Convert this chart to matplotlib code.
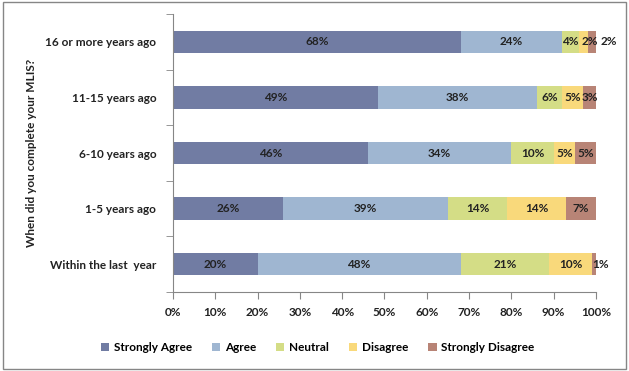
import matplotlib.pyplot as plt
import numpy as np
from matplotlib.patches import Rectangle

categories = ["Within the last  year", "1-5 years ago", "6-10 years ago",
              "11-15 years ago", "16 or more years ago"]
series = ["Strongly Agree", "Agree", "Neutral", "Disagree", "Strongly Disagree"]
strongly_agree = [20, 26, 46, 49, 68]
agree = [48, 39, 34, 38, 24]
neutral = [21, 14, 10, 6, 4]
disagree = [10, 14, 5, 5, 2]
strongly_disagree = [1, 7, 5, 3, 2]
colors = ["#717ca3", "#9fb6d1", "#d4dd86", "#f9d97b", "#b88476"]

plt.rcParams['font.family'] = ['Lato', 'DejaVu Sans']

vals = np.array([strongly_agree, agree, neutral, disagree, strongly_disagree], dtype=float)
pct = vals / vals.sum(axis=0) * 100

fig = plt.figure(figsize=(6.29, 3.71), dpi=100)
ax = fig.add_axes([0.275, 0.213, 0.6725, 0.749])

y = np.arange(len(categories))
left = np.zeros(len(categories))
for i, name in enumerate(series):
    ax.barh(y, pct[i], left=left, height=0.4, color=colors[i], label=name)
    for j in range(len(categories)):
        cx = left[j] + pct[i][j] / 2
        # labels of very thin segments were nudged right in the original
        if pct[i][j] < 2.5 and i == len(series) - 1:
            cx += 2.5 * pct[i][j] - 1
        elif pct[i][j] < 2.5:
            cx += 1.5
        ax.text(cx, y[j], "%d%%" % vals[i][j], ha='center', va='center',
                fontsize=8.5, fontweight='bold', color='#222222')
    left += pct[i]

ax.set_xlim(0, 100)
ax.set_ylim(-0.5, len(categories) - 0.5)
ax.set_xticks(np.arange(0, 101, 10))
ax.set_xticklabels(["%d%%" % v for v in range(0, 101, 10)])
ax.set_yticks(y)
ax.set_yticklabels(categories)
ax.set_yticks(np.arange(-0.5, len(categories)), minor=True)
ax.tick_params(axis='y', which='major', length=0, pad=12)
ax.tick_params(axis='y', which='minor', length=5, color='#868686')
ax.tick_params(axis='x', length=5, color='#868686', pad=6)
for lab in ax.get_xticklabels() + ax.get_yticklabels():
    lab.set_fontsize(8.5)
    lab.set_fontweight('bold')
    lab.set_color('#222222')
for s in ['top', 'right']:
    ax.spines[s].set_visible(False)
for s in ['left', 'bottom']:
    ax.spines[s].set_color('#868686')
ax.set_ylabel("When did you complete your MLIS?", fontsize=8.5, fontweight='bold',
              color='#222222', labelpad=6)

fig.legend(loc='center', bbox_to_anchor=(0.505, 0.063), ncol=5, frameon=False,
           prop={'size': 8.5, 'weight': 'bold'}, handlelength=0.7, handleheight=0.7,
           handletextpad=0.4, columnspacing=1.7)

fig.patches.append(Rectangle((0.004, 0.005), 0.992, 0.99, transform=fig.transFigure,
                             fill=False, edgecolor='#868686', linewidth=1))

fig.savefig("out.png", dpi=100)
